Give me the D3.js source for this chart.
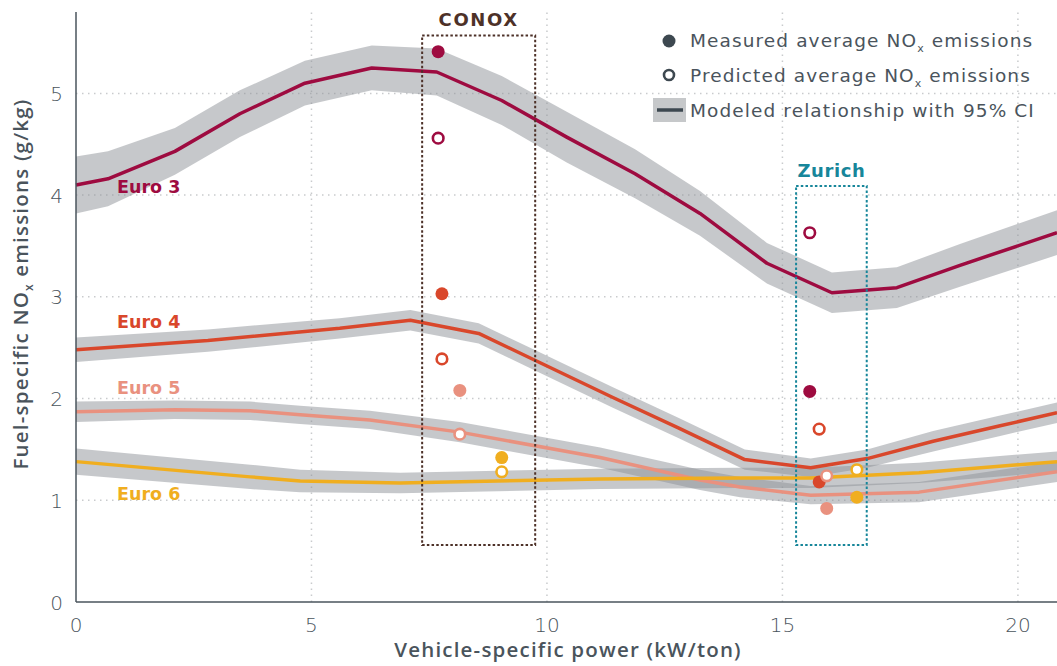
<!DOCTYPE html>
<html>
<head>
<meta charset="utf-8">
<script src="https://cdn.jsdelivr.net/npm/d3@7"></script>
<style>
  body { margin: 0; background: #fff; }
  svg text { font-family: "DejaVu Sans", sans-serif; }
  svg text.title { font-family: "Open Sans", sans-serif; letter-spacing: 1.2px; }
</style>
</head>
<body>
<div id="chart"></div>
<script>
// modeled relationship (x = kW/ton, y = g/kg, ci = half width of 95% band)
const euro3X  = [0, 0.68, 2.1, 3.48, 4.86, 6.28, 7.66, 9.04, 10.42, 11.87, 13.25, 14.67, 16.05, 17.43, 18.77, 20.83];
const euro3Y  = [4.10, 4.16, 4.43, 4.80, 5.10, 5.25, 5.21, 4.93, 4.57, 4.21, 3.82, 3.33, 3.04, 3.09, 3.31, 3.63];
const euro3Ci = [0.28, 0.27, 0.23, 0.23, 0.22, 0.22, 0.23, 0.24, 0.25, 0.24, 0.22, 0.20, 0.20, 0.20, 0.21, 0.22];

const euro4X  = [0, 2.8, 5.6, 7.1, 8.55, 10, 11.4, 12.8, 14.2, 15.6, 16.8, 18.2, 19.6, 20.83];
const euro4Y  = [2.48, 2.57, 2.69, 2.77, 2.64, 2.32, 2.01, 1.71, 1.40, 1.32, 1.41, 1.58, 1.73, 1.86];
const euro4Ci = [0.12, 0.11, 0.10, 0.10, 0.10, 0.10, 0.10, 0.10, 0.10, 0.09, 0.09, 0.10, 0.10, 0.10];

const euro5X  = [0, 2.1, 3.7, 4.76, 6.24, 8.15, 11.13, 13.25, 14.1, 15.6, 17.9, 20.83];
const euro5Y  = [1.87, 1.89, 1.88, 1.84, 1.79, 1.67, 1.42, 1.20, 1.13, 1.05, 1.08, 1.28];
const euro5Ci = [0.10, 0.09, 0.09, 0.09, 0.09, 0.10, 0.10, 0.10, 0.10, 0.09, 0.10, 0.10];

const euro6X  = [0, 3.7, 4.76, 6.88, 11.13, 14.1, 15.6, 17.9, 20.83];
const euro6Y  = [1.38, 1.23, 1.19, 1.17, 1.21, 1.22, 1.22, 1.27, 1.38];
const euro6Ci = [0.13, 0.12, 0.11, 0.10, 0.10, 0.10, 0.10, 0.10, 0.10];

const seriesNames  = ['Euro 3', 'Euro 4', 'Euro 5', 'Euro 6'];
const seriesColors = ['#9e0b40', '#d9472b', '#e9917f', '#f0ae1f'];

// average NOx per campaign, same order as seriesNames
const conoxVsp       = [7.69, 7.77, 8.15, 9.04];
const conoxMeasured  = [5.41, 3.03, 2.08, 1.42];
const conoxPredicted = [4.56, 2.39, 1.65, 1.28];

const zurichVsp       = [15.58, 15.78, 15.94, 16.58];
const zurichMeasured  = [2.07, 1.18, 0.92, 1.03];
const zurichPredicted = [3.63, 1.70, 1.24, 1.30];

// campaign boxes [x0, x1, y0, y1]
const conoxBox  = [7.35, 9.75, 0.56, 5.57];
const zurichBox = [15.29, 16.79, 0.56, 4.09];

const xTicks = [0, 5, 10, 15, 20];
const yTicks = [0, 1, 2, 3, 4, 5];

// label anchor for each series name [x, y]
const labelX = [0.87, 0.87, 0.87, 0.87];
const labelY = [4.02, 2.69, 2.04, 1.0];

const width = 1057, height = 666;
const margin = {top: 12, right: 0, bottom: 64, left: 76};

const svg = d3.select('#chart').append('svg')
    .attr('width', width)
    .attr('height', height);

const x = d3.scaleLinear().domain([0, 20.83]).range([margin.left, width - margin.right]);
const y = d3.scaleLinear().domain([0, 5.8]).range([height - margin.bottom, margin.top]);

const axisColor = '#4a545c';

// grid
svg.append('g').selectAll('line')
  .data(yTicks.filter(d => d > 0))
  .enter().append('line')
    .attr('x1', x(0)).attr('x2', x.range()[1])
    .attr('y1', d => y(d)).attr('y2', d => y(d))
    .attr('stroke', '#c9cbcd').attr('stroke-width', 1.5)
    .attr('stroke-dasharray', '1.5,4.5');
svg.append('g').selectAll('line')
  .data(xTicks.filter(d => d > 0))
  .enter().append('line')
    .attr('x1', d => x(d)).attr('x2', d => x(d))
    .attr('y1', y(0)).attr('y2', y.range()[1])
    .attr('stroke', '#c9cbcd').attr('stroke-width', 1.5)
    .attr('stroke-dasharray', '1.5,4.5');

const series = [
  {xs: euro3X, ys: euro3Y, ci: euro3Ci},
  {xs: euro4X, ys: euro4Y, ci: euro4Ci},
  {xs: euro5X, ys: euro5Y, ci: euro5Ci},
  {xs: euro6X, ys: euro6Y, ci: euro6Ci}
].map((s, i) => ({
  name: seriesNames[i],
  color: seriesColors[i],
  pts: s.xs.map((v, j) => ({x: v, y: s.ys[j], lo: s.ys[j] - s.ci[j], hi: s.ys[j] + s.ci[j]}))
}));

const area = d3.area()
  .x(d => x(d.x))
  .y0(d => y(d.lo))
  .y1(d => y(d.hi));

const line = d3.line()
  .x(d => x(d.x))
  .y(d => y(d.y));

// 95% CI bands
svg.append('g').selectAll('path')
  .data(series)
  .enter().append('path')
    .attr('d', d => area(d.pts))
    .attr('fill', '#8e9297')
    .attr('fill-opacity', 0.5);

// modeled lines
svg.append('g').selectAll('path')
  .data(series)
  .enter().append('path')
    .attr('d', d => line(d.pts))
    .attr('fill', 'none')
    .attr('stroke', d => d.color)
    .attr('stroke-width', 3.5)
    .attr('stroke-linejoin', 'round');

// series labels
svg.append('g').selectAll('text')
  .data(seriesNames)
  .enter().append('text')
    .attr('x', (d, i) => x(labelX[i]))
    .attr('y', (d, i) => y(labelY[i]))
    .attr('fill', (d, i) => seriesColors[i])
    .attr('font-size', 17.5)
    .attr('font-weight', 700)
    .text(d => d);

// campaign boxes
const boxes = [
  {b: conoxBox, name: 'CONOX', color: '#4d3128', ls: 1.6},
  {b: zurichBox, name: 'Zurich', color: '#17869a', ls: 0.6}
];
boxes.forEach(bx => {
  svg.append('rect')
    .attr('x', x(bx.b[0]))
    .attr('y', y(bx.b[3]))
    .attr('width', x(bx.b[1]) - x(bx.b[0]))
    .attr('height', y(bx.b[2]) - y(bx.b[3]))
    .attr('fill', 'none')
    .attr('stroke', bx.color)
    .attr('stroke-width', 2)
    .attr('stroke-dasharray', '2.5,2.2');
  svg.append('text')
    .attr('x', x((bx.b[0] + bx.b[1]) / 2))
    .attr('y', y(bx.b[3]) - 9)
    .attr('text-anchor', 'middle')
    .attr('fill', bx.color)
    .attr('font-size', 18)
    .attr('font-weight', 700)
    .attr('letter-spacing', bx.ls)
    .text(bx.name);
});

// measured (filled) then predicted (open) points
const measured = [], predicted = [];
seriesNames.forEach((n, i) => {
  measured.push({x: conoxVsp[i], y: conoxMeasured[i], c: seriesColors[i]});
  measured.push({x: zurichVsp[i], y: zurichMeasured[i], c: seriesColors[i]});
  predicted.push({x: conoxVsp[i], y: conoxPredicted[i], c: seriesColors[i]});
  predicted.push({x: zurichVsp[i], y: zurichPredicted[i], c: seriesColors[i]});
});

svg.append('g').selectAll('circle')
  .data(measured)
  .enter().append('circle')
    .attr('cx', d => x(d.x))
    .attr('cy', d => y(d.y))
    .attr('r', 6.5)
    .attr('fill', d => d.c);

svg.append('g').selectAll('circle')
  .data(predicted)
  .enter().append('circle')
    .attr('cx', d => x(d.x))
    .attr('cy', d => y(d.y))
    .attr('r', 5.3)
    .attr('fill', '#fff')
    .attr('stroke', d => d.c)
    .attr('stroke-width', 2.6);

// axes
svg.append('line')
  .attr('x1', x(0)).attr('x2', x(0))
  .attr('y1', y(0)).attr('y2', margin.top)
  .attr('stroke', axisColor).attr('stroke-width', 1.5);
svg.append('line')
  .attr('x1', x(0)).attr('x2', x.range()[1])
  .attr('y1', y(0)).attr('y2', y(0))
  .attr('stroke', axisColor).attr('stroke-width', 1.5);

svg.append('g').selectAll('text')
  .data(yTicks)
  .enter().append('text')
    .attr('x', x(0) - 13)
    .attr('y', d => y(d) + 7.5)
    .attr('text-anchor', 'end')
    .attr('fill', axisColor)
    .attr('font-size', 20)
    .attr('font-weight', 200)
    .text(d => d);

svg.append('g').selectAll('text')
  .data(xTicks)
  .enter().append('text')
    .attr('x', d => x(d))
    .attr('y', y(0) + 30)
    .attr('text-anchor', 'middle')
    .attr('fill', axisColor)
    .attr('font-size', 20)
    .attr('font-weight', 200)
    .text(d => d);

svg.append('text')
  .attr('class', 'title')
  .attr('x', 568)
  .attr('y', 657)
  .attr('text-anchor', 'middle')
  .attr('fill', axisColor)
  .attr('font-size', 20.5)
  .attr('font-weight', 600)
  .text('Vehicle-specific power (kW/ton)');

const yTitle = svg.append('text')
  .attr('class', 'title')
  .attr('transform', 'translate(28,284) rotate(-90)')
  .attr('text-anchor', 'middle')
  .attr('fill', axisColor)
  .attr('font-size', 20.5)
  .attr('font-weight', 600);
yTitle.append('tspan').text('Fuel-specific NO');
yTitle.append('tspan').attr('font-size', 12).attr('dy', 5).text('x');
yTitle.append('tspan').attr('dy', -5).text(' emissions (g/kg)');

// legend
const legend = svg.append('g');
const legX = 690;
legend.append('circle').attr('cx', 669).attr('cy', 41).attr('r', 6.5).attr('fill', '#3d4850');
legend.append('circle').attr('cx', 669).attr('cy', 75).attr('r', 5).attr('fill', '#fff')
  .attr('stroke', '#3d4850').attr('stroke-width', 2.6);
legend.append('rect').attr('x', 653).attr('y', 98).attr('width', 33).attr('height', 24).attr('fill', '#c6c8ca');
legend.append('line').attr('x1', 657).attr('x2', 683).attr('y1', 110).attr('y2', 110)
  .attr('stroke', '#3d4850').attr('stroke-width', 3.5);

const legendLabels = [
  ['Measured average NO', 'x', ' emissions'],
  ['Predicted average NO', 'x', ' emissions'],
  ['Modeled relationship with 95% CI']
];
legendLabels.forEach((parts, i) => {
  const t = legend.append('text')
    .attr('x', legX)
    .attr('y', 47 + i * 35)
    .attr('fill', axisColor)
    .attr('font-size', 18.5)
    .attr('letter-spacing', 1.1);
  t.append('tspan').text(parts[0]);
  if (parts.length > 1) {
    t.append('tspan').attr('font-size', 11).attr('dy', 5).text(parts[1]);
    t.append('tspan').attr('dy', -5).text(parts[2]);
  }
});
</script>
</body>
</html>
